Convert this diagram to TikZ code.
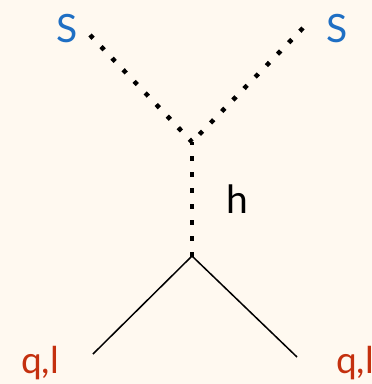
\documentclass[tikz,border=0pt]{standalone}
\usepackage{fontspec}
\setmainfont{Lato}
\usetikzlibrary{arrows.meta}
\definecolor{paper}{HTML}{FFF9F0}
\definecolor{scalar}{HTML}{1F6FC4}
\definecolor{quark}{HTML}{C4300E}
\begin{document}
\begin{tikzpicture}[x=1pt,y=-1pt,>=Latex,every node/.style={inner sep=0pt,anchor=base}]
\tikzset{dots/.style={line width=4.5pt,dash pattern=on 4.5pt off 11.5pt},
  leg/.style={line width=1.5pt},
  big/.style={font=\fontsize{39}{40}\selectfont},
  small/.style={font=\fontsize{37}{38}\selectfont,text=quark}}
\fill[paper] (0,0) rectangle (372,384);
\useasboundingbox (0,0) rectangle (372,384);
% vertices and line ends
\coordinate (top) at (192,142);
\coordinate (bot) at (192,256);
\coordinate (hend) at (192,268);
\coordinate (sl) at (90,35);
\coordinate (sr) at (303,28);
\coordinate (ql) at (93,354);
\coordinate (qr) at (297,357);
\draw[dots] (sl)--(top);
\draw[dots] (sr)--(top);
\draw[dots,dash phase=2pt] (top)--(hend);
\draw[leg] (ql)--(bot)--(qr);
\node[big,text=scalar] (s1) at (67,42) {S};
\node[big,text=scalar] (s2) at (337,42) {S};
\node[big] (h) at (237,213) {h};
\node[small,anchor=base west] (q1) at (21,373) {q,l};
\node[small,anchor=base west] (q2) at (336,373) {q,l};
\end{tikzpicture}
\end{document}
